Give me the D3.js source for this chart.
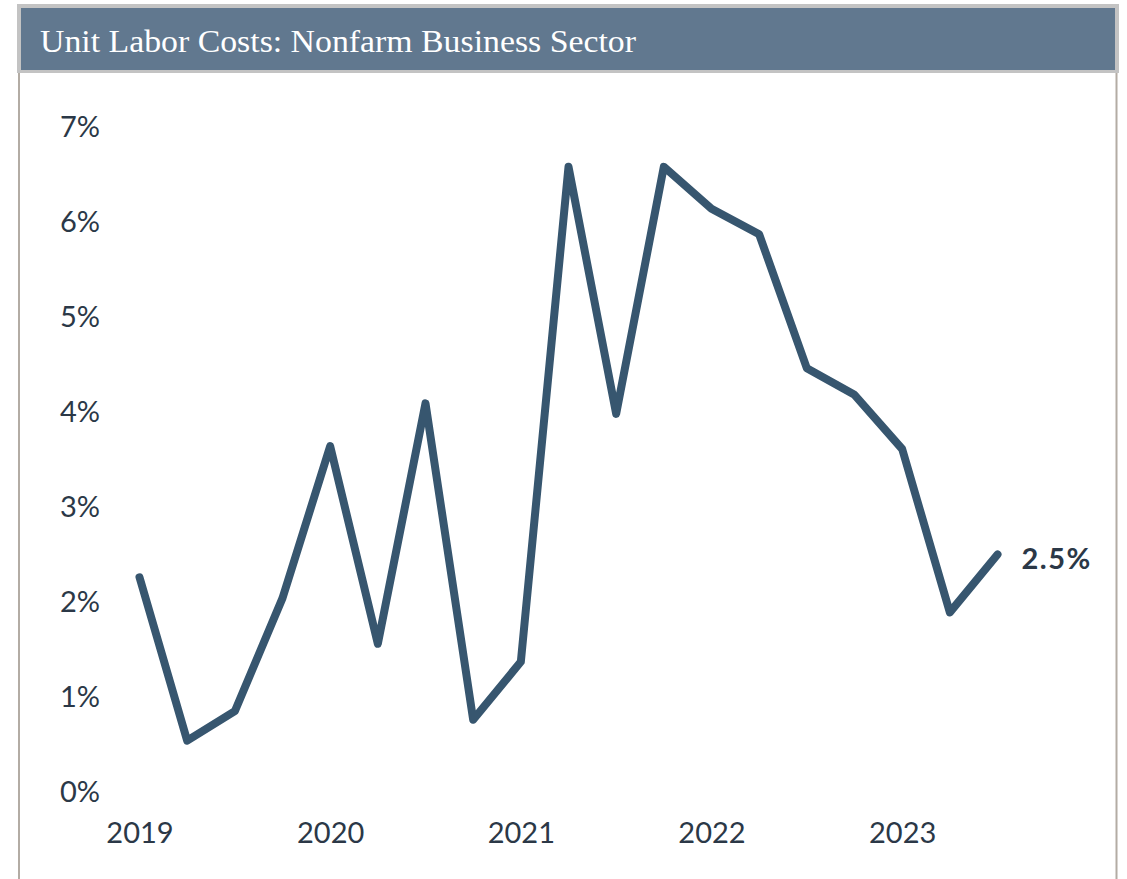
<!DOCTYPE html>
<html>
<head>
<meta charset="utf-8">
<script src="https://cdn.jsdelivr.net/npm/d3@7"></script>
<style>
  html, body { margin: 0; padding: 0; background: #fff; }
  svg { display: block; }
</style>
</head>
<body>
<svg id="chart" width="1127" height="879"></svg>
<script>
// quarterly data, 2019 Q1 .. 2023 Q3 (year-over-year % change)
const quarters = ["2019 Q1","2019 Q2","2019 Q3","2019 Q4",
                  "2020 Q1","2020 Q2","2020 Q3","2020 Q4",
                  "2021 Q1","2021 Q2","2021 Q3","2021 Q4",
                  "2022 Q1","2022 Q2","2022 Q3","2022 Q4",
                  "2023 Q1","2023 Q2","2023 Q3"];
const values = [2.25, 0.53, 0.84, 2.03,
                3.63, 1.55, 4.08, 0.75,
                1.36, 6.57, 3.97, 6.57,
                6.13, 5.86, 4.45, 4.17,
                3.60, 1.88, 2.49];
const yearTicks = [2019, 2020, 2021, 2022, 2023];
const yTicks = [0, 1, 2, 3, 4, 5, 6, 7];
const title = "Unit Labor Costs: Nonfarm Business Sector";
const endLabel = "2.5%";

const svg = d3.select("#chart");
const textColor = "#2b3847";
const lineColor = "#37566f";
const numFont = "Lato, 'Open Sans', sans-serif";

// frame: side rules of the panel body
svg.append("line")
    .attr("x1", 19).attr("x2", 19).attr("y1", 72).attr("y2", 879)
    .attr("stroke", "#b3aca4").attr("stroke-width", 2);
svg.append("line")
    .attr("x1", 1116.5).attr("x2", 1116.5).attr("y1", 72).attr("y2", 879)
    .attr("stroke", "#b3aca4").attr("stroke-width", 2);

// title bar
svg.append("rect")
    .attr("x", 17).attr("y", 4).attr("width", 1102).attr("height", 69)
    .attr("fill", "#c3c3c3");
svg.append("rect")
    .attr("x", 21).attr("y", 8).attr("width", 1094).attr("height", 62)
    .attr("fill", "#61788f");
svg.append("text")
    .attr("x", 40).attr("y", 52)
    .attr("fill", "#fff")
    .attr("textLength", 596)
    .attr("lengthAdjust", "spacingAndGlyphs")
    .style("font-family", "'Liberation Serif', 'DejaVu Serif', serif")
    .style("font-size", "31px")
    .text(title);

// scales
const xPos = quarters.map((q, i) => 2019 + i / 4);
const x = d3.scaleLinear().domain([2019, 2023.5]).range([139.5, 997.5]);
const y = d3.scaleLinear().domain([0, 7]).range([791, 126]);

// y axis
const yAxis = svg.append("g")
    .attr("transform", "translate(100,0)")
    .call(d3.axisLeft(y).tickValues(yTicks).tickSize(0).tickPadding(0)
        .tickFormat(d => d + "%"));
yAxis.select(".domain").remove();
yAxis.selectAll("text")
    .attr("fill", textColor)
    .attr("dy", "0.36em")
    .style("font-family", numFont)
    .style("font-size", "29px");

// x axis
const xAxis = svg.append("g")
    .attr("transform", "translate(0,791)")
    .call(d3.axisBottom(x).tickValues(yearTicks).tickSize(0)
        .tickFormat(d3.format("d")));
xAxis.select(".domain").remove();
xAxis.selectAll("text")
    .attr("fill", textColor)
    .attr("y", 42)
    .attr("dy", "0.36em")
    .style("font-family", numFont)
    .style("font-size", "29px");

// line
const line = d3.line()
    .x((d, i) => x(xPos[i]))
    .y(d => y(d));
svg.append("path")
    .datum(values)
    .attr("d", line)
    .attr("fill", "none")
    .attr("stroke", lineColor)
    .attr("stroke-width", 8)
    .attr("stroke-linejoin", "round")
    .attr("stroke-linecap", "round");

// end label
const last = values.length - 1;
svg.append("text")
    .attr("x", x(xPos[last]) + 24)
    .attr("y", y(values[last]) + 4)
    .attr("dy", "0.36em")
    .attr("fill", textColor)
    .style("font-family", numFont)
    .style("font-weight", "bold")
    .style("font-size", "29px")
    .style("letter-spacing", "1.5px")
    .text(endLabel);
</script>
</body>
</html>
